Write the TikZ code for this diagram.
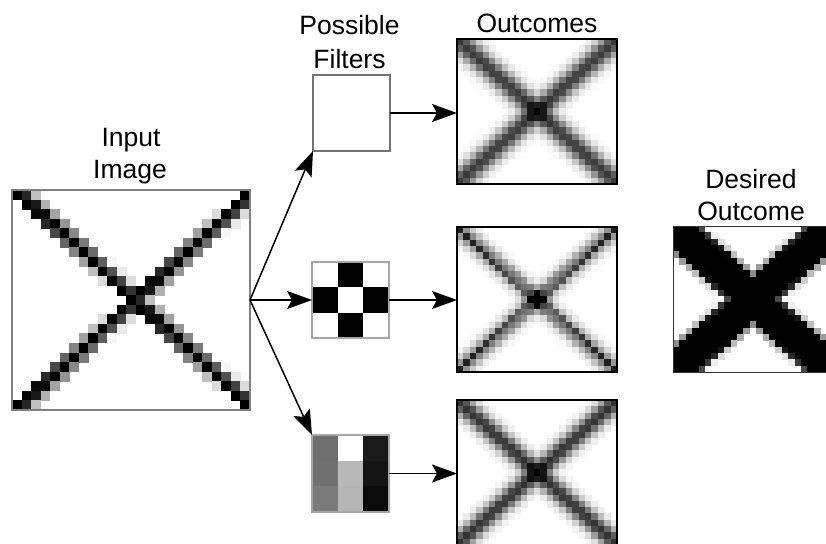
\documentclass[tikz,border=0pt]{standalone}
\usepackage{fontspec}
\setmainfont{Liberation Sans}
\usetikzlibrary{arrows.meta}

% ---- pixel shading rules: each sets \dk (0 = white, 1 = black) for column #1, row #2 ----
\newcommand\linepos[1]{%
  \pgfmathsetmacro\ca{#1*24/22}%
  \pgfmathsetmacro\cb{24-#1*24/22}%
}
% sharp line: black core, grey fringe on its right side
\newcommand\edgeprofile[1]{((#1)>=0 ? max(0,min(1,1.45-0.6*(#1))) : max(0,min(1,1.2+1.3*(#1))))}
\newcommand\shadeinput[2]{%
  \linepos{#2}%
  \pgfmathsetmacro\pa{\edgeprofile{#1-\ca}}%
  \pgfmathsetmacro\pb{\edgeprofile{#1-\cb}}%
  \pgfmathsetmacro\dk{max(\pa,\pb)}%
}
% two soft lines: the darker one plus part of the other, so the crossing darkens
\newcommand\mixlines[2]{%
  \pgfmathsetmacro\dk{min(1,max(#1,#2)+0.4*min(#1,#2))}%
}
\newcommand\shadeblur[2]{%
  \linepos{#2}%
  \pgfmathsetmacro\da{#1-\ca}\pgfmathsetmacro\db{#1-\cb}%
  \pgfmathsetmacro\ga{0.77*exp(max(-9,-\da*\da/6))}%
  \pgfmathsetmacro\gb{0.77*exp(max(-9,-\db*\db/6))}%
  \mixlines{\ga}{\gb}%
}
\newcommand\shadecheck[2]{%
  \linepos{#2}%
  \pgfmathsetmacro\da{#1-\ca}\pgfmathsetmacro\db{#1-\cb}%
  \pgfmathsetmacro\spots{mod(#1+#2,2)==0 ? 0.33 : 0.0}%
  \pgfmathsetmacro\ga{0.55*exp(max(-9,-\da*\da/4))+\spots*exp(max(-9,-\da*\da))}%
  \pgfmathsetmacro\gb{0.55*exp(max(-9,-\db*\db/4))+\spots*exp(max(-9,-\db*\db))}%
  \pgfmathsetmacro\dk{min(1,\ga+\gb)}%
}
\newcommand\shadesmear[2]{%
  \linepos{#2}%
  \pgfmathsetmacro\da{#1-\ca}\pgfmathsetmacro\db{#1-\cb}%
  \pgfmathsetmacro\ga{0.8*exp(max(-9,-\da*\da/5))}%
  \pgfmathsetmacro\gb{0.8*exp(max(-9,-\db*\db/5))}%
  \mixlines{\ga}{\gb}%
}
\newcommand\shadethick[2]{%
  \linepos{#2}%
  \pgfmathsetmacro\dk{max(0,min(1,(5.0-abs(#1-\ca))/1.4),min(1,(5.0-abs(#1-\cb))/1.4))}%
}

% 25 x 23 grid of cells; #1 shading rule, #2/#3 top-left corner, #4/#5 cell size
\newcommand\pixelgrid[5]{%
  \foreach \j in {0,...,22}{%
    \foreach \i in {0,...,24}{%
      #1{\i}{\j}%
      \ifdim\dk pt>0.02pt
        \pgfmathsetmacro\pc{100*\dk}%
        \fill[black!\pc] ({#2+\i*#4},{#3+\j*#5}) rectangle ++({#4+0.4},{#5+0.4});%
      \fi
    }%
  }%
}

\tikzset{
  lbl/.style={anchor=base, font=\fontsize{26.5}{32}\selectfont, inner sep=0pt},
  imgframe/.style={draw=black!50, line width=1.6pt, inner sep=0pt, outer sep=0pt},
  outframe/.style={draw=black, line width=1.2pt, inner sep=0pt, outer sep=0pt,
                   minimum width=160pt, minimum height=145pt},
  filtframe/.style={draw=black!35, line width=1.2pt, inner sep=0pt, outer sep=0pt,
                    minimum width=77pt, minimum height=76pt},
  arr/.style={line width=1.5pt, -{Stealth[length=25pt,width=18pt,inset=5pt]}},
}

\begin{document}
\begin{tikzpicture}[x=1pt, y=-1pt]
  \useasboundingbox (0,0) rectangle (826,543);
  \clip (0,0) rectangle (826,543);

  % bitmaps
  \pixelgrid{\shadeinput}{12}{190}{9.52}{9.565}
  \pixelgrid{\shadeblur}{457}{39}{6.4}{6.304}
  \pixelgrid{\shadecheck}{457}{227}{6.4}{6.304}
  \pixelgrid{\shadesmear}{457}{400}{6.4}{6.304}
  \pixelgrid{\shadethick}{673}{226}{6.4}{6.35}

  % filter kernels
  \foreach \cx/\cy in {1/0, 0/1, 2/1, 1/2}
    \fill[black] ({312+\cx*25.67},{262+\cy*25.33}) rectangle ++(25.67,25.33);
  \foreach \cx/\cy/\s in {0/0/57, 0/1/56, 0/2/52, 1/0/0, 1/1/28, 1/2/29, 2/0/90, 2/1/92, 2/2/96}
    \fill[black!\s] ({312+\cx*25.67},{435+\cy*25.67}) rectangle ++(25.67,25.67);

  % frames
  \node[imgframe, minimum width=238pt, minimum height=220pt] (input) at (131,300) {};
  \node[filtframe, draw=black!55, line width=1.6pt] (f1) at (351.5,113) {};
  \node[filtframe] (f2) at (350.5,300) {};
  \node[filtframe, minimum height=77pt] (f3) at (350.5,473.5) {};
  \node[outframe] (o1) at (537,111.5) {};
  \node[outframe] (o2) at (537,299.5) {};
  \node[outframe] (o3) at (537,472.5) {};
  \node[outframe, draw=black!80, line width=1pt, minimum height=146pt] (goal) at (753,299) {};

  % captions
  \node[lbl] (t1) at (131,146) {Input};
  \node[lbl] (t2) at (130,178) {Image};
  \node[lbl] (t3) at (349.5,35) {Possible};
  \node[lbl] (t4) at (349.5,68) {Filters};
  \node[lbl] (t5) at (537,33) {Outcomes};
  \node[lbl] (t6) at (751,188) {Desired};
  \node[lbl] (t7) at (751,220) {Outcome};

  % connectors
  \draw[arr] (input.east) -- (f1.south west);
  \draw[arr] (input.east) -- (f2.west);
  \draw[arr] (input.east) -- (f3.north west);
  \draw[arr] (f1.east) -- (f1.east -| o1.west);
  \draw[arr] (f2.east) -- (f2.east -| o2.west);
  \draw[arr] (f3.east) -- (f3.east -| o3.west);
\end{tikzpicture}
\end{document}
